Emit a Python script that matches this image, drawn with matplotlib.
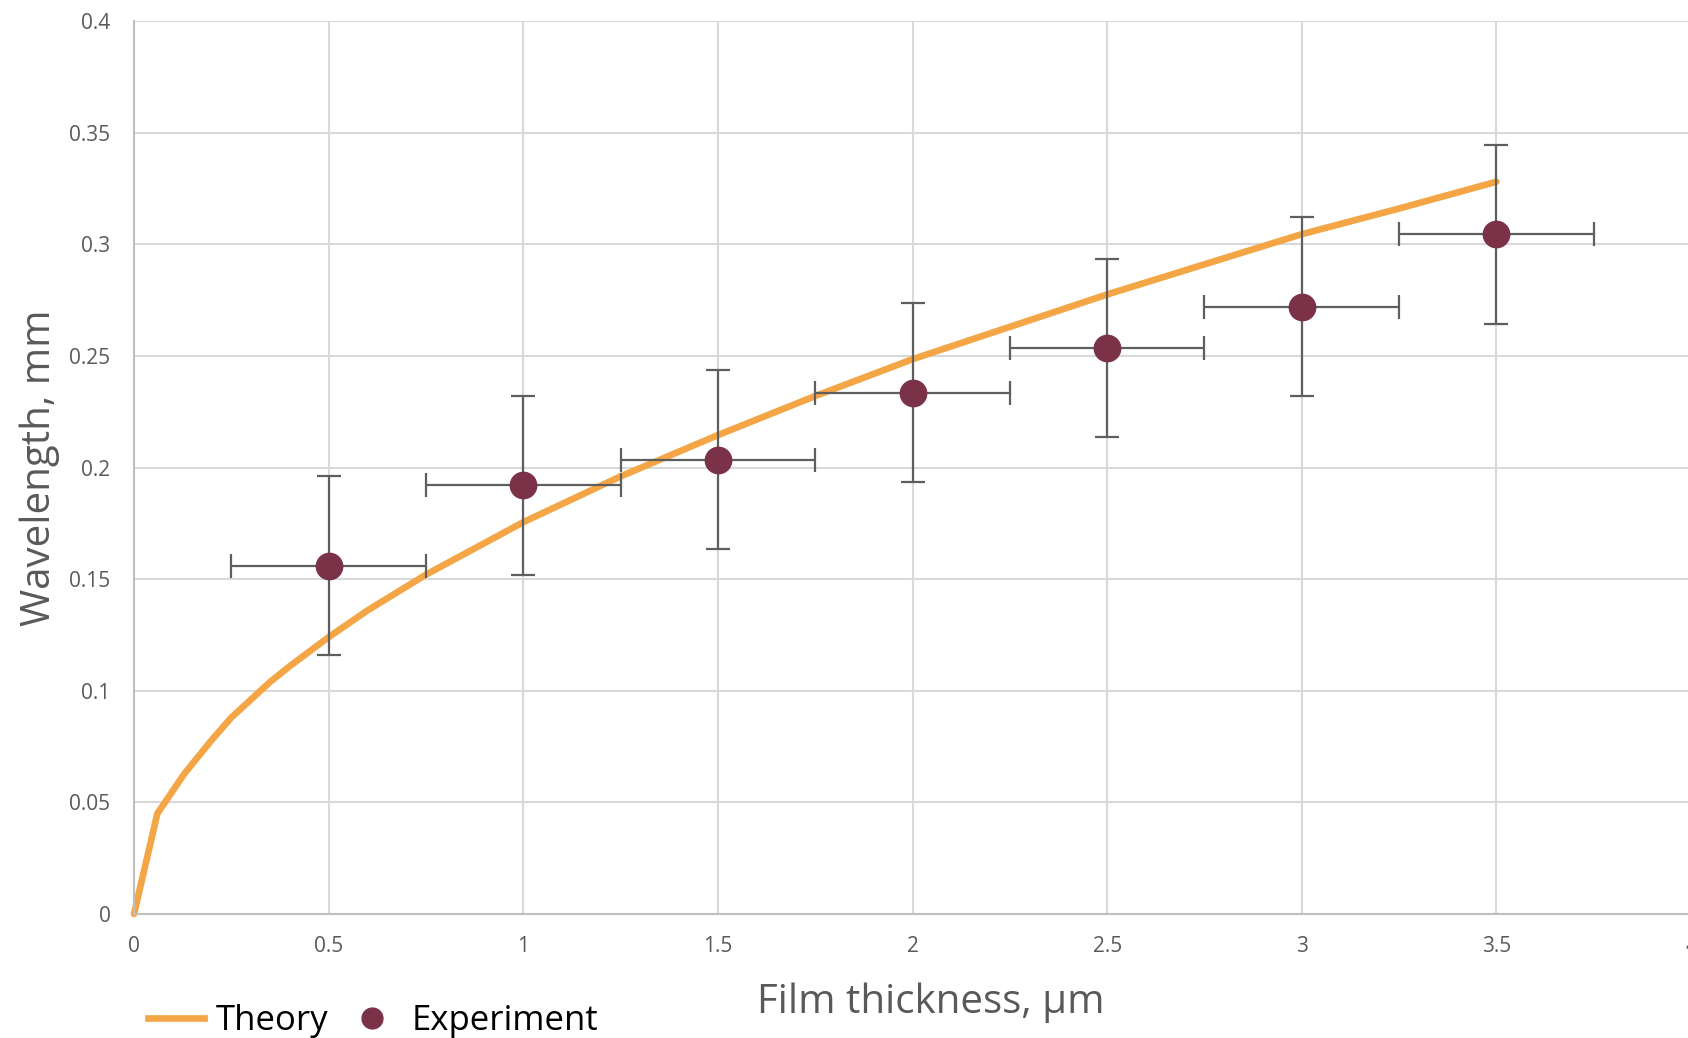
import matplotlib.pyplot as plt
from matplotlib.lines import Line2D

# theory curve
theory_x = [0, 0.06, 0.13, 0.2, 0.25, 0.3, 0.35, 0.4, 0.45, 0.5, 0.6, 0.75,
            1.0, 1.25, 1.5, 1.75, 2.0, 2.25, 2.5, 2.75, 3.0, 3.25, 3.5]
theory_y = [0, 0.045, 0.063, 0.078, 0.088, 0.096, 0.104, 0.111, 0.1175,
            0.124, 0.136, 0.152, 0.1755, 0.196, 0.2145, 0.232, 0.2485,
            0.263, 0.2775, 0.291, 0.3045, 0.316, 0.328]

# experiment points with error bars
exp_x = [0.5, 1.0, 1.5, 2.0, 2.5, 3.0, 3.5]
exp_y = [0.156, 0.192, 0.2035, 0.2335, 0.2535, 0.272, 0.3045]
exp_xerr = [0.25, 0.25, 0.25, 0.25, 0.25, 0.25, 0.25]
exp_yerr = [0.04, 0.04, 0.04, 0.04, 0.04, 0.04, 0.04]

xticks = [0, 0.5, 1, 1.5, 2, 2.5, 3, 3.5, 4]
xticklabels = ["0", "0.5", "1", "1.5", "2", "2.5", "3", "3.5", "4"]
yticks = [0, 0.05, 0.1, 0.15, 0.2, 0.25, 0.3, 0.35, 0.4]
yticklabels = ["0", "0.05", "0.1", "0.15", "0.2", "0.25", "0.3", "0.35", "0.4"]

orange = "#F4A646"
wine = "#7B3249"
grey_txt = "#595959"

plt.rcParams["font.family"] = ["Open Sans", "DejaVu Sans"]

fig = plt.figure(figsize=(16.88, 10.38), dpi=100)
ax = fig.add_axes([134 / 1688, 1 - 914 / 1038, 1557 / 1688, 893 / 1038])

ax.plot(theory_x, theory_y, color=orange, lw=4.8, solid_capstyle="round",
        solid_joinstyle="round", zorder=2, clip_on=False)
ax.errorbar(exp_x, exp_y, xerr=exp_xerr, yerr=exp_yerr, fmt="none",
            ecolor="#5E5E5E", elinewidth=1.6, capsize=8.5, capthick=1.6,
            zorder=3)
ax.plot(exp_x, exp_y, "o", color=wine, markersize=19, zorder=4, clip_on=False)

ax.set_xlim(0, 4)
ax.set_ylim(0, 0.4)
ax.set_xticks(xticks, xticklabels)
ax.set_yticks(yticks, yticklabels)
ax.tick_params(length=0, labelsize=15, labelcolor=grey_txt)
ax.tick_params(axis="y", pad=17)
ax.tick_params(axis="x", pad=16)

ax.grid(color="#D9D9D9", lw=1.5, zorder=0)
ax.set_axisbelow(True)
for s in ["top", "right"]:
    ax.spines[s].set_visible(False)
for s in ["left", "bottom"]:
    ax.spines[s].set_color("#BFBFBF")
    ax.spines[s].set_linewidth(1.5)

ax.set_xlabel("Film thickness, µm", fontsize=29, color=grey_txt)
ax.xaxis.label.set_verticalalignment("baseline")
ax.xaxis.set_label_coords(0.512, (914 - 1013) / 893)
ax.set_ylabel("Wavelength, mm", fontsize=29, color=grey_txt)
ax.yaxis.label.set_verticalalignment("baseline")
ax.yaxis.set_label_coords((50 - 134) / 1557, 0.5)

handles = [
    Line2D([], [], color=orange, lw=4.8),
    Line2D([], [], ls="none", marker="o", color=wine, markersize=15),
]
fig.legend(handles, ["Theory", "Experiment"], loc="lower left",
           bbox_to_anchor=(148 / 1688, 0.0), ncol=2, frameon=False,
           fontsize=25, borderpad=0, borderaxespad=0, handlelength=1.6,
           handletextpad=0.35, columnspacing=0.45)

fig.savefig("out.png", dpi=100)
